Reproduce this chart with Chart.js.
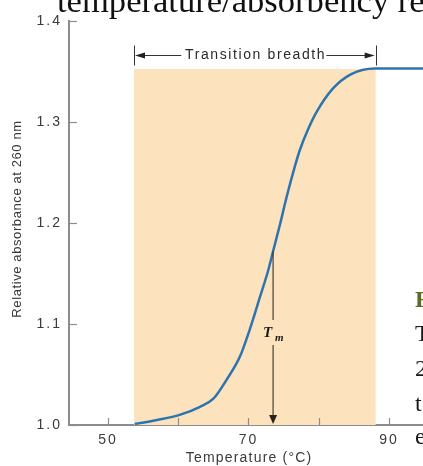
<!DOCTYPE html>
<html>
<head>
<meta charset="utf-8">
<script src="https://cdn.jsdelivr.net/npm/chart.js@4.4.1/dist/chart.umd.min.js"></script>
<style>
  html, body { margin: 0; padding: 0; background: #fff; }
  #wrap { position: relative; width: 423px; height: 466px; overflow: hidden; }
  #c { position: absolute; left: 0; top: 0; }
  .title { position: absolute; left: 57px; top: -17px; font: 34.6px "Liberation Serif", serif; line-height: 34px; color: #111; white-space: nowrap; }
  .side { position: absolute; left: 415px; font: 24px "Liberation Serif", serif; line-height: 24px; color: #1a1a1a; white-space: nowrap; }
</style>
</head>
<body>
<div id="wrap">
  <canvas id="c" width="423" height="466"></canvas>
  <div class="title">temperature/absorbency re</div>
  <div class="side" style="top:287px;color:#5b6b2a;font-weight:bold">F</div>
  <div class="side" style="top:321px">T</div>
  <div class="side" style="top:356px">2</div>
  <div class="side" style="top:391px">t</div>
  <div class="side" style="top:424px">e</div>
</div>
<script>
// ---- data ----
const temperatures = [53.8, 57.0, 60.2, 63.1, 65.0, 66.9, 68.8, 70.2, 71.6, 72.8, 73.5, 74.5, 75.4, 76.6, 77.3, 78.5, 79.7, 82.0, 84.5, 88.0, 91.0, 94.9];
const absorbance   = [1.001, 1.005, 1.010, 1.018, 1.026, 1.045, 1.068, 1.095, 1.126, 1.153, 1.172, 1.199, 1.225, 1.256, 1.272, 1.293, 1.310, 1.333, 1.347, 1.353, 1.353, 1.353];
const xTickValues = [50, 60, 70, 80, 90];
const xTickLabels = ["50", "", "70", "", "90"];
const yTickValues = [1.0, 1.1, 1.2, 1.3, 1.4];
const yTickLabels = ["1.0", "1.1", "1.2", "1.3", "1.4"];
const transitionRange = [53.7, 88.1];
const shadeTop = 1.3525;
const breadthLevel = 1.366;
const tmValue = 73.5;
const tmAbsorbance = 1.172;
const xTitle = "Temperature (\u00B0C)";
const yTitle = "Relative absorbance at 260 nm";
const breadthLabel = "Transition breadth";

const axisGray = '#8c8c8c';

const decor = {
  id: 'decor',
  beforeDraw(chart) {
    chart.ctx.letterSpacing = '2px';
  },
  beforeDatasetsDraw(chart) {
    const { ctx, scales: { x, y } } = chart;
    const x0 = x.getPixelForValue(transitionRange[0]);
    const x1 = x.getPixelForValue(transitionRange[1]);
    const yt = y.getPixelForValue(shadeTop);
    const yb = y.getPixelForValue(1.0);
    ctx.save();
    ctx.fillStyle = '#fde3bd';
    ctx.fillRect(x0, yt, x1 - x0, yb - yt);
    ctx.restore();
  },
  afterDraw(chart) {
    const { ctx, scales: { x, y }, chartArea } = chart;
    ctx.save();
    // inner ticks
    ctx.strokeStyle = axisGray;
    ctx.lineWidth = 1.2;
    yTickValues.forEach(v => {
      const py = Math.round(y.getPixelForValue(v)) + 0.5;
      ctx.beginPath(); ctx.moveTo(chartArea.left, py); ctx.lineTo(chartArea.left + 8, py); ctx.stroke();
    });
    xTickValues.forEach(v => {
      const px = Math.round(x.getPixelForValue(v)) + 0.5;
      ctx.beginPath(); ctx.moveTo(px, chartArea.bottom); ctx.lineTo(px, chartArea.bottom - 7); ctx.stroke();
    });

    // Tm arrow
    const tx = x.getPixelForValue(tmValue);
    const tTop = y.getPixelForValue(tmAbsorbance);
    const tBot = y.getPixelForValue(1.0);
    ctx.strokeStyle = '#3d3226';
    ctx.fillStyle = '#2b2218';
    ctx.lineWidth = 1.1;
    ctx.beginPath();
    ctx.moveTo(tx, tTop); ctx.lineTo(tx, 320);
    ctx.moveTo(tx, 345); ctx.lineTo(tx, tBot - 8);
    ctx.stroke();
    ctx.beginPath();
    ctx.moveTo(tx - 4, tBot - 10); ctx.lineTo(tx + 4, tBot - 10); ctx.lineTo(tx, tBot - 1); ctx.closePath(); ctx.fill();
    ctx.letterSpacing = '0px';
    ctx.fillStyle = '#1a1a1a';
    ctx.textBaseline = 'alphabetic';
    ctx.textAlign = 'left';
    ctx.font = 'italic bold 15px "Liberation Serif", serif';
    ctx.fillText('T', tx - 10, 337);
    ctx.font = 'italic bold 11px "Liberation Serif", serif';
    ctx.fillText('m', tx + 2, 341);

    // Transition breadth arrow
    const bx0 = x.getPixelForValue(transitionRange[0]);
    const bx1 = x.getPixelForValue(transitionRange[1]);
    const by = Math.round(y.getPixelForValue(breadthLevel)) + 0.5;
    ctx.font = '14px "Liberation Sans", Arial, sans-serif';
    ctx.letterSpacing = '1.6px';
    const tw = ctx.measureText(breadthLabel).width;
    const cx = (bx0 + bx1) / 2;
    ctx.strokeStyle = '#333';
    ctx.fillStyle = '#222';
    ctx.lineWidth = 1;
    ctx.beginPath();
    ctx.moveTo(Math.round(bx0) + 0.5, by - 10); ctx.lineTo(Math.round(bx0) + 0.5, by + 10);
    ctx.moveTo(Math.round(bx1) + 0.5, by - 10); ctx.lineTo(Math.round(bx1) + 0.5, by + 10);
    ctx.moveTo(bx0 + 8, by); ctx.lineTo(cx - tw / 2 - 3, by);
    ctx.moveTo(cx + tw / 2 + 1, by); ctx.lineTo(bx1 - 8, by);
    ctx.stroke();
    ctx.beginPath();
    ctx.moveTo(bx0 + 1, by); ctx.lineTo(bx0 + 11, by - 3); ctx.lineTo(bx0 + 11, by + 3); ctx.closePath(); ctx.fill();
    ctx.beginPath();
    ctx.moveTo(bx1 - 1, by); ctx.lineTo(bx1 - 11, by - 3); ctx.lineTo(bx1 - 11, by + 3); ctx.closePath(); ctx.fill();
    ctx.textAlign = 'center';
    ctx.textBaseline = 'middle';
    ctx.fillStyle = '#2a2a2a';
    ctx.fillText(breadthLabel, cx + 0.8, by);

    // axis titles
    ctx.fillStyle = '#3a3a3a';
    ctx.font = '14px "Liberation Sans", Arial, sans-serif';
    ctx.letterSpacing = '1.2px';
    ctx.textAlign = 'center';
    ctx.textBaseline = 'middle';
    ctx.fillText(xTitle, (x.getPixelForValue(50) + x.getPixelForValue(90)) / 2 + 0.6, 458);
    ctx.save();
    ctx.translate(17, (chartArea.top + chartArea.bottom) / 2 - 4);
    ctx.rotate(-Math.PI / 2);
    ctx.font = '13px "Liberation Sans", Arial, sans-serif';
    ctx.letterSpacing = '0.6px';
    ctx.fillText(yTitle, 0, 0);
    ctx.restore();
    ctx.restore();
  }
};

new Chart(document.getElementById('c'), {
  type: 'line',
  data: {
    datasets: [{
      data: temperatures.map((t, i) => ({ x: t, y: absorbance[i] })),
      borderColor: '#2c74b0',
      borderWidth: 2.5,
      pointRadius: 0,
      cubicInterpolationMode: 'monotone',
      fill: false
    }]
  },
  options: {
    responsive: false,
    animation: false,
    devicePixelRatio: 1,
    layout: { padding: { top: 21, right: 0, left: 0, bottom: 0 } },
    plugins: { legend: { display: false }, tooltip: { enabled: false } },
    scales: {
      x: {
        type: 'linear', min: 44.45, max: 94.84,
        afterBuildTicks(s) { s.ticks = xTickValues.map(v => ({ value: v })); },
        afterFit(s) { s.height = 41; },
        grid: { display: false, drawTicks: false },
        border: { display: true, color: axisGray, width: 2 },
        ticks: {
          padding: 7, color: '#3a3a3a', maxRotation: 0, autoSkip: false,
          font: { family: '"Liberation Sans", Arial, sans-serif', size: 14 },
          callback: (v) => { const i = xTickValues.indexOf(v); return i >= 0 ? xTickLabels[i] : ''; }
        },
        title: { display: false }
      },
      y: {
        type: 'linear', min: 1.0, max: 1.4,
        afterBuildTicks(s) { s.ticks = yTickValues.map(v => ({ value: v })); },
        afterFit(s) { s.width = 69; },
        grid: { display: false, drawTicks: false },
        border: { display: true, color: axisGray, width: 2 },
        ticks: {
          padding: 7, color: '#3a3a3a', autoSkip: false,
          font: { family: '"Liberation Sans", Arial, sans-serif', size: 14 },
          callback: (v) => { const i = yTickValues.findIndex(t => Math.abs(t - v) < 1e-9); return i >= 0 ? yTickLabels[i] : ''; }
        },
        title: { display: false }
      }
    }
  },
  plugins: [decor]
});
</script>
</body>
</html>
